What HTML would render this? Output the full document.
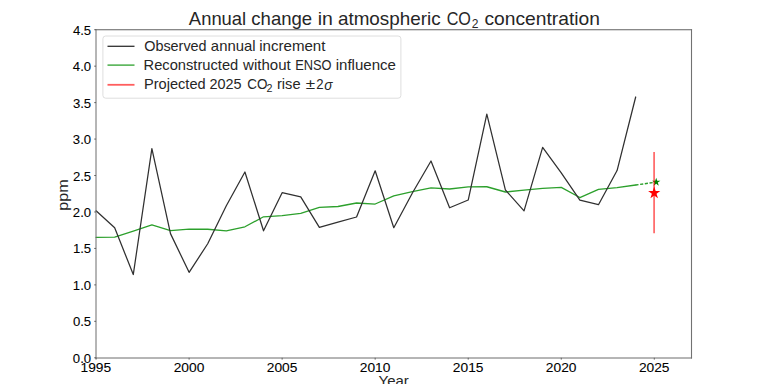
<!DOCTYPE html>
<html><head><meta charset="utf-8"><style>
html,body{margin:0;padding:0;background:#fff;width:768px;height:384px;overflow:hidden}
svg{display:block}
text{font-family:"Liberation Sans",sans-serif}
</style></head><body>
<svg width="768" height="384" viewBox="0 0 768 384">
<rect x="0" y="0" width="768" height="384" fill="#fff"/>
<text transform="matrix(1.0235,0,0,1,188.86,25.10)" font-size="18.0" fill="#262626" xml:space="preserve">Annual</text>
<text transform="matrix(1.0311,0,0,1,251.32,25.10)" font-size="18.0" fill="#262626" xml:space="preserve">change</text>
<text transform="matrix(1.0836,0,0,1,317.69,25.10)" font-size="18.0" fill="#262626" xml:space="preserve">in</text>
<text transform="matrix(1.0483,0,0,1,337.91,25.10)" font-size="18.0" fill="#262626" xml:space="preserve">atmospheric</text>
<text transform="matrix(0.8982,0,0,1,446.68,25.10)" font-size="18.0" fill="#262626" xml:space="preserve">CO</text>
<text transform="matrix(1.0693,0,0,1,484.44,25.10)" font-size="18.0" fill="#262626" xml:space="preserve">concentration</text>
<text transform="matrix(0.9573,0,0,1,471.80,27.70)" font-size="12.6" fill="#262626" xml:space="preserve">2</text>
<polyline fill="none" stroke="#2ca02c" stroke-width="1.3" stroke-linejoin="round" stroke-linecap="round" points="96.06,237.28 114.67,237.06 133.28,231.01 151.88,224.81 170.49,230.57 189.10,229.04 207.71,229.26 226.31,230.79 244.92,226.78 263.53,216.79 282.13,215.55 300.74,213.29 319.35,207.31 337.96,206.51 356.56,203.01 375.17,204.03 393.78,195.79 412.39,191.56 431.00,187.92 449.60,189.01 468.21,186.97 486.82,186.75 505.43,192.00 524.03,190.18 542.64,188.43 561.25,187.33 579.86,197.54 598.46,189.38 617.07,187.70 635.68,185.00"/>
<polyline fill="none" stroke="#303030" stroke-width="1.25" stroke-linejoin="round" stroke-linecap="round" points="96.06,210.81 114.67,227.80 133.28,274.54 151.88,148.62 170.49,233.63 189.10,272.35 207.71,243.77 226.31,205.78 244.92,172.02 263.53,230.79 282.13,192.66 300.74,196.89 319.35,227.36 337.96,222.19 356.56,217.01 375.17,170.78 393.78,227.73 412.39,193.02 431.00,160.94 449.60,207.75 468.21,200.02 486.82,114.06 505.43,190.03 524.03,210.81 542.64,147.38 561.25,172.90 579.86,200.17 598.46,204.69 617.07,170.56 635.68,97.00"/>
<line x1="635.68" y1="185.00" x2="656.2" y2="182.1" stroke="#2ca02c" stroke-width="1.4" stroke-dasharray="3.15,1.6" stroke-dashoffset="0.28"/>
<polygon fill="#008000" points="656.20,177.70 655.21,180.74 652.02,180.74 654.60,182.62 653.61,185.66 656.20,183.78 658.79,185.66 657.80,182.62 660.38,180.74 657.19,180.74"/>
<line x1="654.1" y1="152.0" x2="654.1" y2="233.3" stroke="#ff0000" stroke-opacity="0.57" stroke-width="1.8"/>
<polygon fill="#ff0000" points="654.20,186.60 652.76,191.02 648.11,191.02 651.88,193.76 650.44,198.18 654.20,195.44 657.96,198.18 656.52,193.76 660.29,191.02 655.64,191.02"/>
<line x1="95.56" y1="29.7" x2="692.05" y2="29.7" stroke="#606060" stroke-width="1.1"/>
<line x1="691.5" y1="29.15" x2="691.5" y2="358.5" stroke="#727272" stroke-width="1.1"/>
<line x1="95.5" y1="358.0" x2="692.05" y2="358.0" stroke="#6c6c6c" stroke-width="1.0"/>
<line x1="96.0" y1="29.15" x2="96.0" y2="358.5" stroke="#6c6c6c" stroke-width="1.0"/>
<g stroke="#606060" stroke-width="1"><line x1="94.26" y1="357.80" x2="96.06" y2="357.80"/><line x1="94.26" y1="321.34" x2="96.06" y2="321.34"/><line x1="94.26" y1="284.89" x2="96.06" y2="284.89"/><line x1="94.26" y1="248.43" x2="96.06" y2="248.43"/><line x1="94.26" y1="211.98" x2="96.06" y2="211.98"/><line x1="94.26" y1="175.52" x2="96.06" y2="175.52"/><line x1="94.26" y1="139.07" x2="96.06" y2="139.07"/><line x1="94.26" y1="102.61" x2="96.06" y2="102.61"/><line x1="94.26" y1="66.16" x2="96.06" y2="66.16"/><line x1="94.26" y1="29.70" x2="96.06" y2="29.70"/><line x1="96.06" y1="357.8" x2="96.06" y2="359.60"/><line x1="189.10" y1="357.8" x2="189.10" y2="359.60"/><line x1="282.13" y1="357.8" x2="282.13" y2="359.60"/><line x1="375.17" y1="357.8" x2="375.17" y2="359.60"/><line x1="468.21" y1="357.8" x2="468.21" y2="359.60"/><line x1="561.25" y1="357.8" x2="561.25" y2="359.60"/><line x1="654.29" y1="357.8" x2="654.29" y2="359.60"/></g>
<g style="stroke:#000;stroke-width:0.08px">
<text transform="matrix(0.9883,0,0,1,72.84,362.80)" font-size="13.3" fill="#000" xml:space="preserve">0.0</text>
<text transform="matrix(0.9883,0,0,1,72.88,326.34)" font-size="13.3" fill="#000" xml:space="preserve">0.5</text>
<text transform="matrix(0.9883,0,0,1,72.84,289.89)" font-size="13.3" fill="#000" xml:space="preserve">1.0</text>
<text transform="matrix(0.9883,0,0,1,72.88,253.43)" font-size="13.3" fill="#000" xml:space="preserve">1.5</text>
<text transform="matrix(0.9883,0,0,1,72.84,216.98)" font-size="13.3" fill="#000" xml:space="preserve">2.0</text>
<text transform="matrix(0.9883,0,0,1,72.88,180.52)" font-size="13.3" fill="#000" xml:space="preserve">2.5</text>
<text transform="matrix(0.9883,0,0,1,72.84,144.07)" font-size="13.3" fill="#000" xml:space="preserve">3.0</text>
<text transform="matrix(0.9883,0,0,1,72.88,107.61)" font-size="13.3" fill="#000" xml:space="preserve">3.5</text>
<text transform="matrix(0.9883,0,0,1,72.84,71.16)" font-size="13.3" fill="#000" xml:space="preserve">4.0</text>
<text transform="matrix(0.9883,0,0,1,72.88,34.70)" font-size="13.3" fill="#000" xml:space="preserve">4.5</text>
<text transform="matrix(1.0354,0,0,1,80.51,371.90)" font-size="13.3" fill="#000" xml:space="preserve">1995</text>
<text transform="matrix(1.0354,0,0,1,173.71,371.90)" font-size="13.3" fill="#000" xml:space="preserve">2000</text>
<text transform="matrix(1.0354,0,0,1,266.77,371.90)" font-size="13.3" fill="#000" xml:space="preserve">2005</text>
<text transform="matrix(1.0354,0,0,1,359.78,371.90)" font-size="13.3" fill="#000" xml:space="preserve">2010</text>
<text transform="matrix(1.0354,0,0,1,452.84,371.90)" font-size="13.3" fill="#000" xml:space="preserve">2015</text>
<text transform="matrix(1.0354,0,0,1,545.86,371.90)" font-size="13.3" fill="#000" xml:space="preserve">2020</text>
<text transform="matrix(1.0354,0,0,1,638.92,371.90)" font-size="13.3" fill="#000" xml:space="preserve">2025</text>
</g>
<text transform="matrix(1.0703,0,0,1,378.57,385.70)" font-size="14.0" fill="#262626" xml:space="preserve">Year</text>
<text transform="translate(68.2,210.74) rotate(-90) scale(1.1145,1)" font-size="14.58" fill="#262626">ppm</text>
<rect x="102.9" y="36.0" width="298" height="62.2" rx="2.8" ry="2.8" fill="#fff" fill-opacity="0.8" stroke="#dedede" stroke-width="1"/>
<line x1="107.5" y1="46.3" x2="134.5" y2="46.3" stroke="#303030" stroke-width="1.3"/>
<line x1="107.5" y1="65.1" x2="134.5" y2="65.1" stroke="#2ca02c" stroke-width="1.3"/>
<line x1="107.5" y1="84.8" x2="134.5" y2="84.8" stroke="#ff5e5e" stroke-width="1.8"/>
<text transform="matrix(1.0290,0,0,1,144.22,50.50)" font-size="14.0" fill="#262626" xml:space="preserve">Observed</text>
<text transform="matrix(1.0638,0,0,1,210.87,50.50)" font-size="14.0" fill="#262626" xml:space="preserve">annual</text>
<text transform="matrix(1.0788,0,0,1,259.19,50.50)" font-size="14.0" fill="#262626" xml:space="preserve">increment</text>
<text transform="matrix(1.0501,0,0,1,143.54,69.80)" font-size="14.0" fill="#262626" xml:space="preserve">Reconstructed</text>
<text transform="matrix(1.0749,0,0,1,243.12,69.80)" font-size="14.0" fill="#262626" xml:space="preserve">without</text>
<text transform="matrix(0.9193,0,0,1,295.14,69.80)" font-size="14.0" fill="#262626" xml:space="preserve">ENSO</text>
<text transform="matrix(1.0755,0,0,1,335.69,69.80)" font-size="14.0" fill="#262626" xml:space="preserve">influence</text>
<text transform="matrix(1.0431,0,0,1,144.00,89.30)" font-size="14.0" fill="#262626" xml:space="preserve">Projected</text>
<text transform="matrix(1.0319,0,0,1,209.48,89.30)" font-size="14.0" fill="#262626" xml:space="preserve">2025</text>
<text transform="matrix(0.9636,0,0,1,247.21,89.30)" font-size="14.0" fill="#262626" xml:space="preserve">CO</text>
<text transform="matrix(1.0469,0,0,1,276.93,89.30)" font-size="14.0" fill="#262626" xml:space="preserve">rise</text>
<text transform="matrix(1.2199,0,0,1,305.65,89.30)" font-size="14.0" fill="#262626" xml:space="preserve">±</text>
<text transform="matrix(0.9398,0,0,1,316.34,89.30)" font-size="14.0" fill="#262626" xml:space="preserve">2</text>
<text transform="matrix(1.0332,0,0,1,266.56,91.70)" font-size="10.4" fill="#262626" xml:space="preserve">2</text>
<text transform="matrix(0.9746,0,0,1,324.15,89.50)" font-size="14.0" font-style="italic" fill="#262626" xml:space="preserve">σ</text>
</svg>
</body></html>
